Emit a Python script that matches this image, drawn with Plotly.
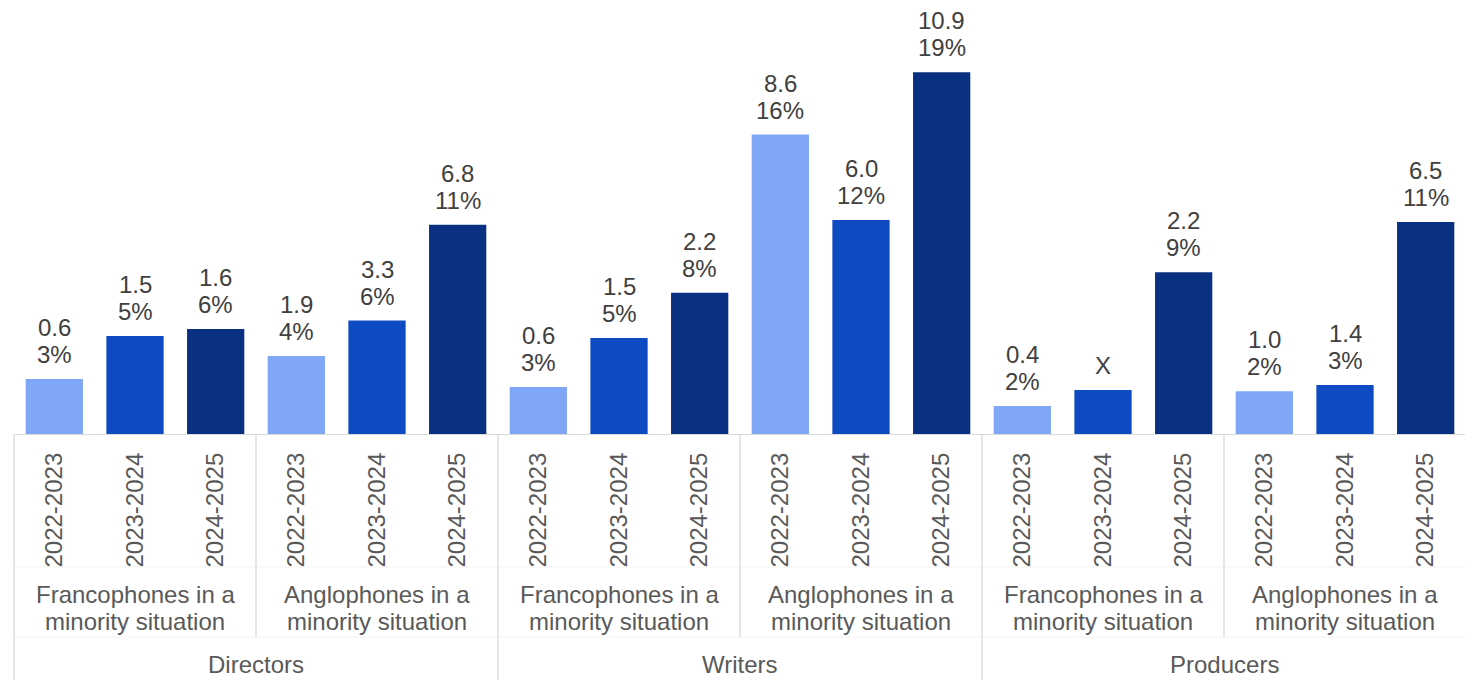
import plotly.graph_objects as go

# ---------------- data ----------------
roles = ["Directors", "Writers", "Producers"]
groups = [("Francophones in a", "minority situation"),
          ("Anglophones in a", "minority situation")]
years = ["2022-2023", "2023-2024", "2024-2025"]

# bar heights (share, %), ordered role > group > year
share = [2.96, 5.27, 5.65, 4.2, 6.1, 11.25,
         2.53, 5.16, 7.6, 16.1, 11.5, 19.45,
         1.5, 2.37, 8.7, 2.3, 2.63, 11.4]
amount_labels = ["0.6", "1.5", "1.6", "1.9", "3.3", "6.8",
                 "0.6", "1.5", "2.2", "8.6", "6.0", "10.9",
                 "0.4", "X", "2.2", "1.0", "1.4", "6.5"]
pct_labels = ["3%", "5%", "6%", "4%", "6%", "11%",
              "3%", "5%", "8%", "16%", "12%", "19%",
              "2%", "", "9%", "2%", "3%", "11%"]
year_colors = ["#7FA7F5", "#0E4BC3", "#0A3181"]

# ---------------- layout constants ----------------
# the page body has an 8px margin, so the figure is drawn 8px smaller
OFF = 8
W, H = 1473 - OFF, 680 - OFF
ML, MR, MT, MB = 14 - OFF, 7, 20 - OFF, 246
PLOT_H = H - MT - MB
AXIS_PX = 434  # reference pixel row of the axis
FONT = "Liberation Sans, Arial, sans-serif"
LABEL_COLOR = "#404040"
AXIS_COLOR = "#595959"
LINE_COLOR = "#D9D9D9"


def py(px):
    """reference pixel row -> paper y"""
    return (AXIS_PX - px) / PLOT_H


cats, ticktext, colors = [], [], []
for r in roles:
    for gi, g in enumerate(groups):
        for yi, y in enumerate(years):
            cats.append(f"{r}|{gi}|{y}")
            ticktext.append(y)
            colors.append(year_colors[yi])

n = len(cats)

fig = go.Figure()
fig.add_trace(go.Bar(
    x=cats, y=share,
    marker=dict(color=colors, line=dict(width=0)),
    hoverinfo="skip",
))

annotations = []
for i in range(n):
    lines = [amount_labels[i], pct_labels[i]] if pct_labels[i] else [amount_labels[i]]
    for k, t in enumerate(reversed(lines)):
        annotations.append(dict(
            x=cats[i], y=share[i], xref="x", yref="y",
            text=t, showarrow=False, yanchor="bottom",
            yshift=9 + k * 27,
            font=dict(family=FONT, size=24, color=LABEL_COLOR),
        ))

# group labels
for ri, r in enumerate(roles):
    for gi, g in enumerate(groups):
        c = cats[ri * 6 + gi * 3 + 1]
        for li, t in enumerate(g):
            annotations.append(dict(
                x=c, y=py(594 + li * 27), xref="x", yref="paper",
                text=t, showarrow=False, yanchor="middle",
                font=dict(family=FONT, size=24, color=AXIS_COLOR),
            ))
    annotations.append(dict(
        x=cats[ri * 6 + 2], xshift=(W - ML - MR) / n / 2,
        y=py(664), xref="x", yref="paper",
        text=r, showarrow=False, yanchor="middle",
        font=dict(family=FONT, size=24, color=AXIS_COLOR),
    ))

shapes = []
# faint horizontal separators
for p in (567, 637):
    shapes.append(dict(type="line", xref="paper", yref="paper",
                       x0=0, x1=1, y0=py(p), y1=py(p),
                       line=dict(color="#F3F3F3", width=1)))
# full-height separators (role boundaries)
for b in (0, 6, 12, 18):
    shapes.append(dict(type="line", xref="x domain", yref="paper",
                       x0=b / n, x1=b / n, y0=0, y1=py(690),
                       line=dict(color=LINE_COLOR, width=1.3)))
# group boundaries
for b in (3, 9, 15):
    shapes.append(dict(type="line", xref="x domain", yref="paper",
                       x0=b / n, x1=b / n, y0=0, y1=py(637),
                       line=dict(color=LINE_COLOR, width=1.3)))

fig.update_layout(
    width=W, height=H,
    margin=dict(l=ML, r=MR, t=MT, b=MB),
    paper_bgcolor="white", plot_bgcolor="white",
    bargap=0.29,
    showlegend=False,
    annotations=annotations,
    shapes=shapes,
    xaxis=dict(
        type="category", categoryorder="array", categoryarray=cats,
        range=[-0.5, n - 0.5],
        tickmode="array", tickvals=cats, ticktext=ticktext,
        tickangle=-90, ticks="", showgrid=False, zeroline=False,
        showline=True, linecolor=LINE_COLOR, linewidth=1.3,
        tickfont=dict(family=FONT, size=24, color=AXIS_COLOR),
        ticklabelstandoff=8,
        fixedrange=True,
    ),
    yaxis=dict(
        range=[0, PLOT_H / 18.6], visible=False, fixedrange=True,
        showgrid=False, zeroline=False,
    ),
)

fig.write_html("out.html", config=dict(displayModeBar=False))
